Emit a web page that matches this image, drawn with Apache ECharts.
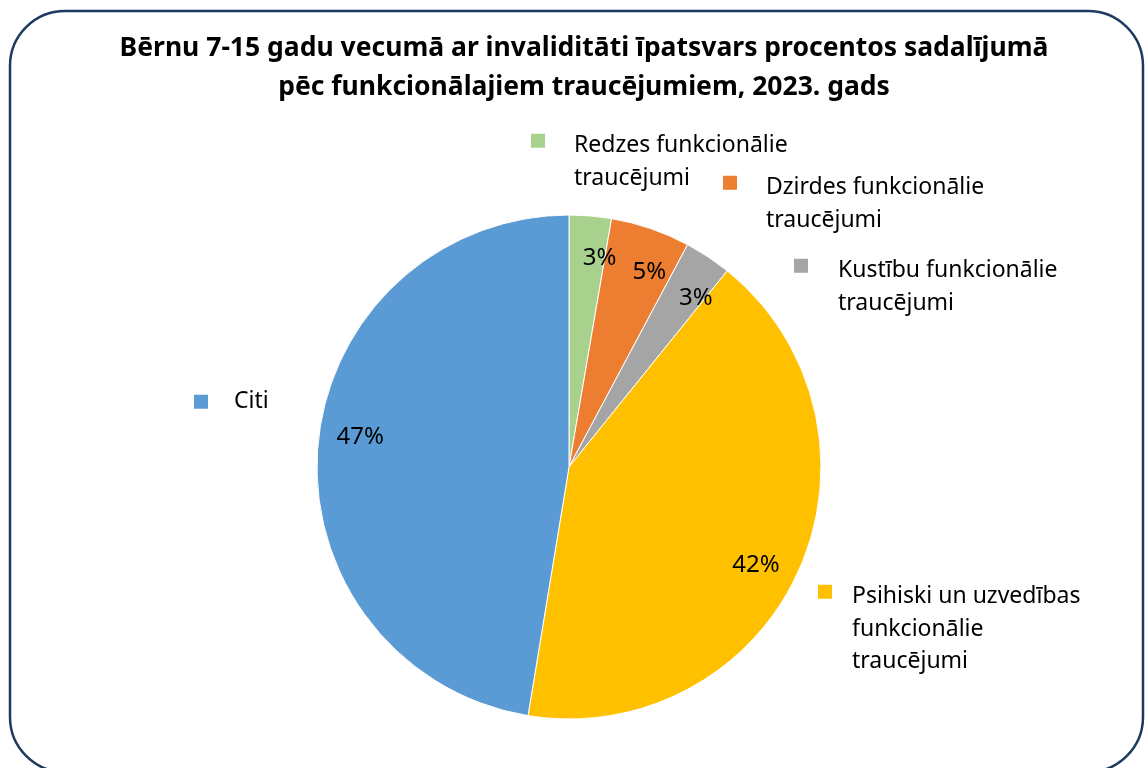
<!DOCTYPE html>
<html>
<head>
<meta charset="utf-8">
<script src="https://cdn.jsdelivr.net/npm/echarts@6/dist/echarts.min.js"></script>
<style>
  html, body { margin: 0; padding: 0; background: #fff; }
  #chart { width: 1145px; height: 768px; }
</style>
</head>
<body>
<div id="chart"></div>
<script>
// chart data
const categories = [
  'Redzes funkcionālie traucējumi',
  'Dzirdes funkcionālie traucējumi',
  'Kustību funkcionālie traucējumi',
  'Psihiski un uzvedības funkcionālie traucējumi',
  'Citi'
]
const shares = [2.7, 5.1, 3.0, 41.8, 47.4]
const colors = ['#a9d18e', '#ed7d31', '#a5a5a5', '#ffc000', '#5b9bd5']
// how each legend label wraps
const legendLines = [
  ['Redzes funkcionālie', 'traucējumi'],
  ['Dzirdes funkcionālie', 'traucējumi'],
  ['Kustību funkcionālie', 'traucējumi'],
  ['Psihiski un uzvedības', 'funkcionālie', 'traucējumi'],
  ['Citi']
]
const titleText = 'Bērnu 7-15 gadu vecumā ar invaliditāti īpatsvars procentos sadalījumā\npēc funkcionālajiem traucējumiem, 2023. gads'

const FONT = 'Noto Sans'
const LINE_H = 32.5
const ICON = 16

// legend key placements: icon left, icon centre y, gap icon -> text
const legendPos = [
  [529, 140, 30],
  [721, 182, 30],
  [792, 265, 31],
  [816, 591.5, 21],
  [192, 399.5, 27]
]
// fudge for how echarts measures the rich text block
const topFix = { 1: 7, 2: 17, 3: 14 }

// keep the first text line next to the key box (excel style), not the block middle
function makeLegend(i) {
  const lines = legendLines[i]
  const n = lines.length
  const d = 5
  const spacer = n > 1 ? LINE_H + 2 * d / (n - 1) : 0
  const blockH = (n - 1) * spacer + n * LINE_H
  const [x, cy, gap] = legendPos[i]
  const text = lines.slice(1).map(() => '{s| }')
    .concat(lines.map(l => '{t|' + l + '}')).join('\n')
  return {
    data: [categories[i]],
    left: x,
    top: cy - blockH / 2 + topFix[n],
    padding: 0,
    itemWidth: ICON,
    itemHeight: ICON,
    icon: 'rect',
    selectedMode: false,
    formatter: () => text,
    textStyle: {
      fontFamily: FONT,
      fontSize: 23,
      color: '#000',
      padding: [0, 0, 0, gap - 5 - (ICON - 14)],
      rich: {
        t: { fontFamily: FONT, fontSize: 23, color: '#000', lineHeight: LINE_H },
        s: { fontSize: 10, lineHeight: spacer || LINE_H }
      }
    }
  }
}

const pieData = categories.map((name, i) => ({
  name,
  value: shares[i],
  itemStyle: { color: colors[i] }
}))

const chart = echarts.init(document.getElementById('chart'), null, { renderer: 'canvas' })
chart.setOption({
  animation: false,
  title: {
    text: titleText,
    left: 584,
    textAlign: 'center',
    top: 29,
    padding: 0,
    textStyle: {
      fontFamily: FONT,
      fontSize: 26.5,
      fontWeight: 'bold',
      color: '#000',
      lineHeight: 39
    }
  },
  legend: categories.map((c, i) => makeLegend(i)),
  graphic: [{
    type: 'rect',
    shape: { x: 10, y: 11, width: 1133, height: 761, r: 55 },
    style: { fill: 'none', stroke: '#1f3a60', lineWidth: 2.5 },
    silent: true,
    z: 100
  }],
  series: [
    {
      type: 'pie',
      center: [569, 467],
      radius: 252,
      startAngle: 90,
      clockwise: true,
      silent: true,
      label: { show: false },
      labelLine: { show: false },
      itemStyle: { borderColor: '#fff', borderWidth: 1 },
      data: pieData
    },
    {
      // transparent ring only used to place the percent labels
      type: 'pie',
      center: [569, 467],
      radius: [164, 252],
      startAngle: 86.5,
      clockwise: true,
      silent: true,
      itemStyle: { color: 'rgba(0,0,0,0)' },
      label: {
        show: true,
        position: 'inside',
        fontFamily: FONT,
        fontSize: 24,
        color: '#000',
        formatter: p => Math.round(p.percent) + '%'
      },
      labelLine: { show: false },
      data: categories.map((name, i) => ({ name, value: shares[i] }))
    }
  ]
})
</script>
</body>
</html>
